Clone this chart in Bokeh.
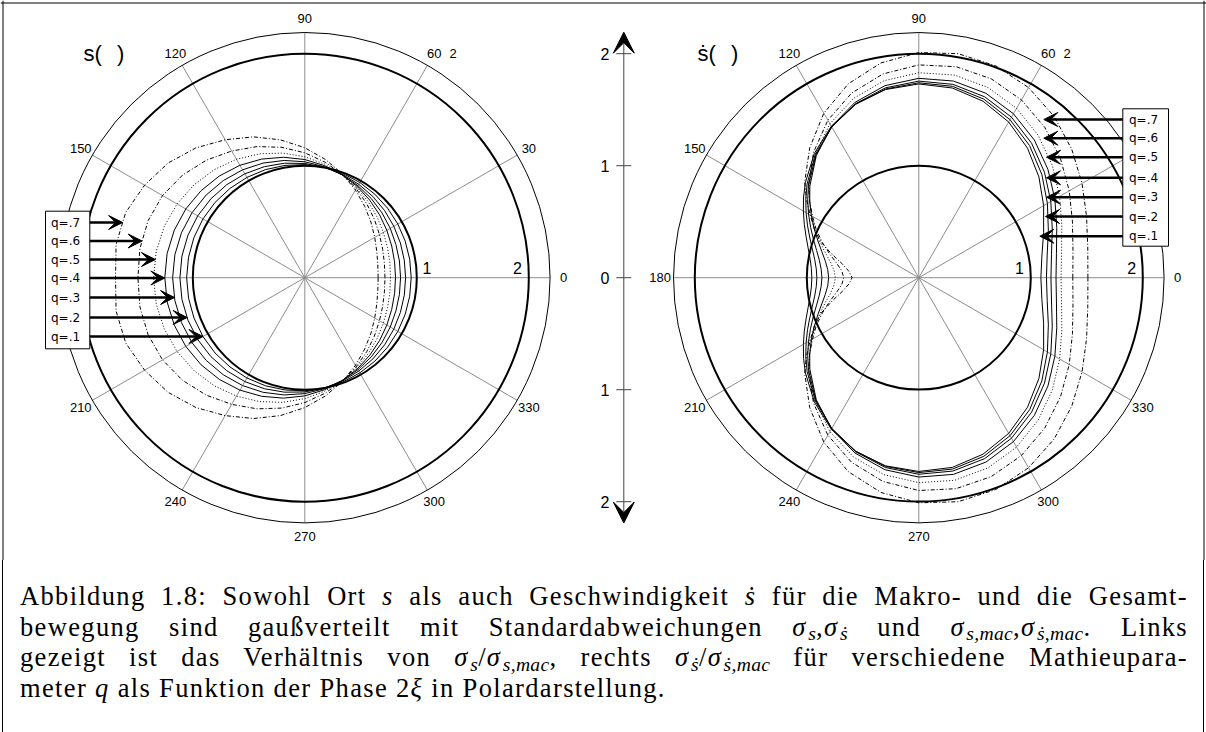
import math

from bokeh.core.properties import value
from bokeh.embed import file_html
from bokeh.layouts import column
from bokeh.models import Arrow, Div, Range1d, Span, VeeHead
from bokeh.plotting import figure
from bokeh.resources import INLINE

# ---------------------------------------------------------------- data
q_labels = ["q=.1", "q=.2", "q=.3", "q=.4", "q=.5", "q=.6", "q=.7"]

# phase 2xi in degrees (curves are mirror-symmetric about the 0-180 axis)
phase_s = [0, 10, 20, 30, 40, 50, 60, 70, 80, 90,
           100, 110, 120, 130, 140, 150, 160, 170, 180]

# sigma_s / sigma_s,mac
ratio_s_q1 = [0.950, 0.951, 0.954, 0.959, 0.965, 0.973, 0.982, 0.991, 1.000, 1.010,
              1.018, 1.027, 1.034, 1.040, 1.046, 1.050, 1.053, 1.054, 1.055]
ratio_s_q2 = [0.900, 0.902, 0.908, 0.918, 0.931, 0.946, 0.963, 0.982, 1.001, 1.020,
              1.038, 1.055, 1.071, 1.084, 1.095, 1.104, 1.110, 1.114, 1.115]
ratio_s_q3 = [0.855, 0.858, 0.866, 0.881, 0.900, 0.923, 0.949, 0.977, 1.006, 1.035,
              1.063, 1.089, 1.112, 1.132, 1.149, 1.162, 1.172, 1.178, 1.180]
ratio_s_q4 = [0.810, 0.814, 0.826, 0.846, 0.872, 0.903, 0.939, 0.977, 1.016, 1.055,
              1.092, 1.127, 1.159, 1.186, 1.209, 1.227, 1.240, 1.248, 1.250]
ratio_s_q5 = [0.765, 0.771, 0.786, 0.810, 0.843, 0.883, 0.928, 0.977, 1.029, 1.080,
              1.130, 1.177, 1.221, 1.259, 1.291, 1.317, 1.336, 1.347, 1.350]
ratio_s_q6 = [0.716, 0.722, 0.740, 0.770, 0.811, 0.861, 0.918, 0.981, 1.047, 1.115,
              1.182, 1.246, 1.306, 1.369, 1.425, 1.467, 1.489, 1.495, 1.490]
ratio_s_q7 = [0.655, 0.662, 0.684, 0.721, 0.771, 0.832, 0.904, 0.984, 1.071, 1.160,
              1.250, 1.338, 1.422, 1.513, 1.593, 1.652, 1.702, 1.711, 1.690]

phase_v = [0, 10, 20, 30, 40, 50, 60, 70, 80, 90, 100, 110, 120, 130,
           140, 145, 150, 155, 160, 165, 170, 175, 180]

# sigma_sdot / sigma_sdot,mac
ratio_v_q1 = [1.090, 1.116, 1.186, 1.287, 1.400, 1.510, 1.605, 1.677, 1.720, 1.730,
              1.706, 1.649, 1.562, 1.450, 1.322, 1.256, 1.190, 1.128, 1.071, 1.023,
              0.986, 0.963, 0.955]
ratio_v_q2 = [1.140, 1.164, 1.231, 1.326, 1.434, 1.539, 1.629, 1.697, 1.735, 1.740,
              1.711, 1.648, 1.555, 1.437, 1.302, 1.232, 1.162, 1.096, 1.035, 0.984,
              0.944, 0.919, 0.910]
ratio_v_q3 = [1.180, 1.203, 1.268, 1.361, 1.465, 1.567, 1.655, 1.719, 1.753, 1.755,
              1.721, 1.653, 1.554, 1.429, 1.286, 1.211, 1.137, 1.066, 1.001, 0.945,
              0.902, 0.875, 0.865]
ratio_v_q4 = [1.225, 1.248, 1.311, 1.403, 1.505, 1.605, 1.690, 1.752, 1.783, 1.780,
              1.741, 1.666, 1.559, 1.424, 1.270, 1.189, 1.108, 1.030, 0.958, 0.896,
              0.847, 0.816, 0.805]
ratio_v_q5 = [1.270, 1.294, 1.359, 1.452, 1.557, 1.659, 1.746, 1.807, 1.837, 1.830,
              1.786, 1.704, 1.587, 1.440, 1.275, 1.190, 1.105, 1.020, 0.940, 0.865,
              0.800, 0.760, 0.745]
ratio_v_q6 = [1.375, 1.398, 1.460, 1.551, 1.652, 1.751, 1.833, 1.890, 1.913, 1.900,
              1.847, 1.754, 1.624, 1.462, 1.285, 1.190, 1.095, 1.010, 0.915, 0.825,
              0.745, 0.690, 0.670]
ratio_v_q7 = [1.510, 1.532, 1.594, 1.683, 1.783, 1.880, 1.960, 2.012, 2.031, 2.010,
              1.947, 1.842, 1.696, 1.515, 1.330, 1.225, 1.120, 1.030, 0.930, 0.800,
              0.690, 0.625, 0.596]

ratio_s = [ratio_s_q1, ratio_s_q2, ratio_s_q3, ratio_s_q4, ratio_s_q5, ratio_s_q6, ratio_s_q7]
ratio_v = [ratio_v_q1, ratio_v_q2, ratio_v_q3, ratio_v_q4, ratio_v_q5, ratio_v_q6, ratio_v_q7]

angle_ticks = [0, 30, 60, 90, 120, 150, 180, 210, 240, 270, 300, 330]
radial_ticks = [-2, -1, 0, 1, 2]
radial_tick_labels = ["2", "1", "0", "1", "2"]

curve_dash = ["solid", "solid", "solid", "solid", "1 2", "4 2 1 2", "4 2 1 2"]

# ---------------------------------------------------------------- layout (pixels)
W, H_PLOT, H_TEXT = 1206, 560, 172
UNIT = 112.0              # pixels per unit of ratio
CX, CY = 304.3, 277.2     # centre of the left dial
R_OUT = 2.19              # outer angle ring
R_LAB = 2.31              # angle label radius


def px(x):
    return (x - CX) / UNIT


def py(y):
    return (CY - y) / UNIT


OX_L = 0.0
OX_R = px(918.3)
AXIS_X = px(623.3)

SANS = value("Liberation Sans")

p = figure(width=W, height=H_PLOT,
           x_range=Range1d(px(0), px(W)), y_range=Range1d(py(H_PLOT), py(0)),
           output_backend="svg", toolbar_location=None, min_border=0)
p.axis.visible = False
p.grid.visible = False
p.outline_line_color = None
p.background_fill_color = "white"
p.border_fill_color = "white"


def closed_curve(ox, phases, radii):
    ang = list(phases) + [360 - a for a in reversed(phases[:-1])]
    rad = list(radii) + list(reversed(radii[:-1]))
    xs = [ox + r * math.cos(math.radians(a)) for a, r in zip(ang, rad)]
    ys = [r * math.sin(math.radians(a)) for a, r in zip(ang, rad)]
    return xs, ys


def crossing_x(xs, ys, y0, leftmost=True):
    hits = []
    for i in range(len(xs) - 1):
        y1, y2 = ys[i], ys[i + 1]
        if (y1 - y0) * (y2 - y0) <= 0 and y1 != y2:
            t = (y0 - y1) / (y2 - y1)
            hits.append(xs[i] + t * (xs[i + 1] - xs[i]))
    return min(hits) if leftmost else max(hits)


def dial(ox, phases, family, hidden_angle, title, radial_pos):
    # spokes
    sx0, sy0, sx1, sy1 = [], [], [], []
    for a in angle_ticks:
        sx0.append(ox)
        sy0.append(0)
        sx1.append(ox + R_OUT * math.cos(math.radians(a)))
        sy1.append(R_OUT * math.sin(math.radians(a)))
    p.segment(sx0, sy0, sx1, sy1, line_color="#8c8c8c", line_width=1)
    # rings
    p.circle(x=[ox], y=[0], radius=R_OUT, fill_color=None, line_color="black", line_width=1)
    p.circle(x=[ox, ox], y=[0, 0], radius=[1, 2], fill_color=None, line_color="black", line_width=2)
    # curves
    curves = []
    for radii, dash in zip(family, curve_dash):
        xs, ys = closed_curve(ox, phases, radii)
        p.line(xs, ys, line_color="black", line_width=1, line_dash=dash)
        curves.append((xs, ys))
    # angle labels
    lx, ly, lt = [], [], []
    for a in angle_ticks:
        if a == hidden_angle:
            continue
        lx.append(ox + R_LAB * math.cos(math.radians(a)))
        ly.append(R_LAB * math.sin(math.radians(a)))
        lt.append(str(a))
    lx.append(ox + R_LAB * math.cos(math.radians(60)) + 0.17)
    ly.append(R_LAB * math.sin(math.radians(60)))
    lt.append("2")
    p.text(lx, ly, text=lt, text_font=SANS, text_font_size="13px",
           text_align="center", text_baseline="middle", text_color="black")
    # radial labels on the 0 axis
    p.text([ox + radial_pos[0], ox + radial_pos[1]], [0.09, 0.09], text=["1", "2"],
           text_font=SANS, text_font_size="16px", text_align="center",
           text_baseline="middle", text_color="black")
    # panel title
    p.text([ox + px(83)], [py(53)], text=[title + "("], text_font=SANS,
           text_font_size="22px", text_align="left", text_baseline="alphabetic")
    p.text([ox + px(116.5)], [py(53)], text=[")"], text_font=SANS,
           text_font_size="22px", text_align="left", text_baseline="alphabetic")
    return curves


curves_s = dial(OX_L, phase_s, ratio_s, 180, "s", (1.091, 1.899))
curves_v = dial(OX_R, phase_v, ratio_v, 30, "\u1e61", (0.899, 1.90))

# ---------------------------------------------------------------- legends
def legend_box(left, right, top, bottom, text_x, rows, tips):
    p.quad(left=[left], right=[right], top=[top], bottom=[bottom],
           fill_color="white", line_color="black", line_width=1)
    for y, tip in zip(rows, tips):
        start = right if tip > right else left
        p.add_layout(Arrow(end=VeeHead(size=14, fill_color="black", line_color="black", line_width=1),
                           x_start=start, y_start=y, x_end=tip, y_end=y,
                           line_color="black", line_width=2.5))
    p.text([text_x] * len(rows), rows, text=q_labels, text_font=value("DejaVu Sans"),
           text_font_size="12px", text_align="left", text_baseline="middle", text_color="black")


rows_left = [py(v) for v in (336, 317, 297, 277.5, 259, 240.5, 222)]
tips_left = [crossing_x(xs, ys, y0, leftmost=True) for (xs, ys), y0 in zip(curves_s, rows_left)]
legend_box(px(45), px(89.3), py(210.7), py(348.3), px(50.5), rows_left, tips_left)

rows_right = [py(v) for v in (235.7, 216, 196.7, 177.3, 156.7, 137.7, 119)]
tips_right = [px(v) for v in (1039.3, 1045, 1046, 1046, 1046, 1043.3, 1043.3)]
legend_box(px(1122.3), px(1168), py(108.3), py(245.7), px(1128.5), rows_right, tips_right)

# ---------------------------------------------------------------- shared radial scale
p.add_layout(Arrow(start=VeeHead(size=21, fill_color="black", line_color="black"),
                   end=VeeHead(size=21, fill_color="black", line_color="black"),
                   x_start=AXIS_X, y_start=py(522.5), x_end=AXIS_X, y_end=py(31.7),
                   line_color="#444444", line_width=1))
tick_half = 7.5 / UNIT
p.segment([AXIS_X - tick_half] * 5, radial_ticks, [AXIS_X + tick_half] * 5, radial_ticks,
          line_color="#444444", line_width=1)
p.text([px(604.5)] * 5, radial_ticks, text=radial_tick_labels, text_font=SANS,
       text_font_size="16px", text_align="center", text_baseline="middle", text_color="black")

# ---------------------------------------------------------------- frame
for loc, dim in ((px(2.5), "height"), (px(1203.5), "height"), (py(2.5), "width")):
    p.add_layout(Span(location=loc, dimension=dim, line_color="black", line_width=1))

# ---------------------------------------------------------------- caption
SIG = "<i>\u03c3</i>"


def sub(t):
    return ('<sub style="font-size:74%;line-height:0;vertical-align:-0.25em;'
            'letter-spacing:0.3px;padding-left:1.5px"><i>' + t + "</i></sub>")


cap_lines = [
    "Abbildung 1.8: Sowohl Ort <i>s</i> als auch Geschwindigkeit <i>\u1e61</i> "
    "f\u00fcr die Makro- und die Gesamt-",
    "bewegung sind gau\u00dfverteilt mit Standardabweichungen "
    + SIG + sub("s") + "," + SIG + sub("\u1e61") + " und "
    + SIG + sub("s,mac") + "," + SIG + sub("\u1e61,mac") + ". Links",
    "gezeigt ist das Verh\u00e4ltnis von " + SIG + sub("s") + "/" + SIG + sub("s,mac")
    + ", rechts " + SIG + sub("\u1e61") + "/" + SIG + sub("\u1e61,mac")
    + " f\u00fcr verschiedene Mathieupara-",
    "meter <i>q</i> als Funktion der Phase 2<i>\u03be</i> in Polardarstellung.",
]

html = ['<div style="margin-left:2px;width:1202px;height:%dpx;box-sizing:border-box;'
        'border-left:1px solid #000;border-right:1px solid #000;'
        'padding:21px 15px 0 17px;font-family:\'Liberation Serif\';font-size:26.5px;'
        'line-height:30.5px;letter-spacing:1.35px;color:#000;">' % H_TEXT]
for i, ln in enumerate(cap_lines):
    last = i == len(cap_lines) - 1
    align = "left" if last else "justify"
    html.append('<div style="white-space:nowrap;text-align:%s;text-align-last:%s;">%s</div>'
                % (align, align, ln))
html.append("</div>")
caption = Div(text="".join(html), width=W, height=H_TEXT, margin=0)

layout = column(p, caption, spacing=0)
open("out.html", "w").write(file_html(layout, INLINE))
